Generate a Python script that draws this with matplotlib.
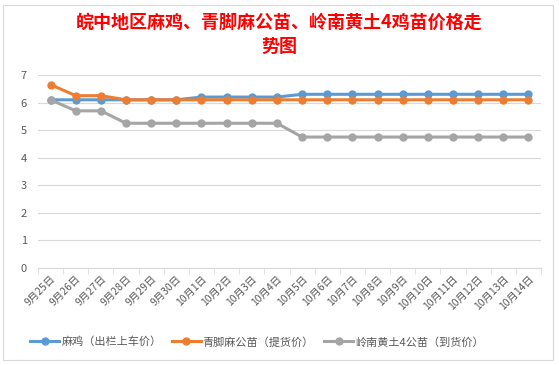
import matplotlib.pyplot as plt
from matplotlib.patches import Rectangle

plt.rcParams['font.family'] = ['Noto Sans CJK SC', 'DejaVu Sans']

dates = ["9月25日", "9月26日", "9月27日", "9月28日", "9月29日", "9月30日",
         "10月1日", "10月2日", "10月3日", "10月4日", "10月5日", "10月6日",
         "10月7日", "10月8日", "10月9日", "10月10日", "10月11日", "10月12日",
         "10月13日", "10月14日"]
ma_ji = [6.1, 6.1, 6.1, 6.1, 6.1, 6.1, 6.2, 6.2, 6.2, 6.2,
         6.3, 6.3, 6.3, 6.3, 6.3, 6.3, 6.3, 6.3, 6.3, 6.3]
qingjiao = [6.65, 6.25, 6.25, 6.1, 6.1, 6.1, 6.1, 6.1, 6.1, 6.1,
            6.1, 6.1, 6.1, 6.1, 6.1, 6.1, 6.1, 6.1, 6.1, 6.1]
lingnan = [6.1, 5.7, 5.7, 5.25, 5.25, 5.25, 5.25, 5.25, 5.25, 5.25,
           4.75, 4.75, 4.75, 4.75, 4.75, 4.75, 4.75, 4.75, 4.75, 4.75]
labels = ["麻鸡（出栏上车价）", "青脚麻公苗（提货价）", "岭南黄土4公苗（到货价）"]
colors = ["#5B9BD5", "#ED7D31", "#A5A5A5"]

W, H = 559, 365
fig = plt.figure(figsize=(W / 100, H / 100), dpi=100)
fig.patch.set_facecolor("white")
fig.patches.append(Rectangle((3 / W, 5 / H), 550 / W, 355 / H, transform=fig.transFigure,
                             fill=False, ec="#D9D9D9", lw=0.8))

ax = fig.add_axes([38 / W, 1 - 268 / H, (541 - 38) / W, (268 - 75) / H])
x = list(range(len(dates)))
for ys, c, lab in zip([ma_ji, qingjiao, lingnan], colors, labels):
    ax.plot(x, ys, color=c, lw=2.2, marker="o", ms=5, label=lab)

ax.set_xlim(-0.5, len(dates) - 0.5)
ax.set_ylim(0, 7)
ax.set_yticks(range(8))
ax.grid(axis="y", color="#D9D9D9", lw=0.8)
ax.set_axisbelow(True)
for s in ["top", "right", "left"]:
    ax.spines[s].set_visible(False)
ax.spines["bottom"].set_color("#D9D9D9")
ax.tick_params(axis="y", length=0, labelsize=8, labelcolor="#595959", pad=8)
ax.set_xticks([i - 0.5 for i in range(len(dates) + 1)], minor=True)
ax.set_xticks(x)
ax.set_xticklabels(dates, rotation=45, ha="right", rotation_mode="anchor",
                   fontsize=7.5, color="#595959")
ax.tick_params(axis="x", which="major", length=0, pad=4)
ax.tick_params(axis="x", which="minor", length=4, color="#D9D9D9")

fig.text(0.5, 1 - 22 / H, "皖中地区麻鸡、青脚麻公苗、岭南黄土4鸡苗价格走", ha="center",
         va="center", color="red", fontsize=13, fontweight="bold")
fig.text(0.5, 1 - 46 / H, "势图", ha="center", va="center", color="red",
         fontsize=13, fontweight="bold")

fig.legend(loc="center", bbox_to_anchor=(0.46, 1 - 342 / H), ncol=3, frameon=False,
           fontsize=8, handlelength=2.6, columnspacing=0.9, handletextpad=0.2,
           labelcolor="#595959")

fig.savefig("out.png", dpi=100)
